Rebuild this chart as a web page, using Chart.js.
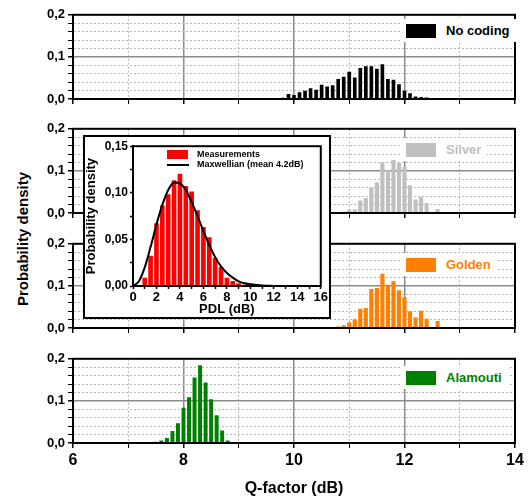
<!DOCTYPE html>
<html>
<head>
<meta charset="utf-8">
<title>Q-factor distributions</title>
<script src="https://cdn.jsdelivr.net/npm/chart.js@4.4.1/dist/chart.umd.min.js"></script>
<style>
  html, body { margin: 0; padding: 0; background: #fff; }
  #page { position: relative; width: 528px; height: 501px; overflow: hidden;
          font-family: "Liberation Sans", Arial, sans-serif; }
  #page canvas { position: absolute; left: 0; }
  .legend { position: absolute; background: #fff; display: flex; align-items: center;
            padding: 4px 6px 4px 4px; font-weight: bold; font-size: 13px; white-space: nowrap; }
  .legend .swatch { display: inline-block; width: 30px; height: 14px; margin-right: 10px; }
  #inset { position: absolute; left: 83px; top: 135px; width: 248px; height: 184px;
           box-sizing: border-box; border: 2px solid #000; background: #fff; }
  #inset canvas { position: absolute; left: 0; top: 0; }
  .ilegend { position: absolute; display: flex; align-items: center; font-weight: bold;
             font-size: 9px; line-height: 11px; white-space: nowrap; }
  .ilegend .swatch { display: inline-block; width: 21px; height: 9px; margin-right: 9px; }
  .ilegend .line { display: inline-block; width: 22px; height: 2px; margin-right: 8px; }
  #ylabel { position: absolute; left: 22px; top: 239px; transform: translate(-50%, -50%) rotate(-90deg);
            font-weight: bold; font-size: 15px; white-space: nowrap; }
</style>
</head>
<body>
<div id="page">
  <div id="ylabel">Probability density</div>
</div>
<script>
// ===== Data =====
const noCodingQ = [9.8, 9.9, 10.0, 10.1, 10.2, 10.3, 10.4, 10.5, 10.6, 10.7, 10.8, 10.9, 11.0, 11.1,
  11.2, 11.3, 11.4, 11.5, 11.6, 11.7, 11.8, 11.9, 12.0, 12.1, 12.2, 12.3, 12.4];
const noCodingP = [0.002, 0.011, 0.009, 0.015, 0.019, 0.025, 0.021, 0.033, 0.029, 0.032, 0.047, 0.052, 0.064, 0.050,
  0.073, 0.077, 0.077, 0.071, 0.082, 0.047, 0.045, 0.034, 0.019, 0.013, 0.005, 0.004, 0.003];

const silverQ = [10.9, 11.0, 11.1, 11.2, 11.3, 11.4, 11.5, 11.6, 11.7, 11.8, 11.9, 12.0, 12.1, 12.2, 12.3, 12.4, 12.6];
const silverP = [0.003, 0.007, 0.008, 0.029, 0.035, 0.060, 0.072, 0.120, 0.102, 0.125, 0.118, 0.109, 0.065, 0.031, 0.037, 0.023, 0.009];

const goldenQ = [10.6, 10.7, 10.8, 10.9, 11.0, 11.1, 11.2, 11.3, 11.4, 11.5, 11.6, 11.7, 11.8, 11.9, 12.0,
  12.1, 12.2, 12.3, 12.4, 12.6, 12.9];
const goldenP = [0.001, 0.001, 0.003, 0.006, 0.013, 0.020, 0.045, 0.047, 0.092, 0.094, 0.128, 0.102, 0.110, 0.089, 0.072,
  0.039, 0.024, 0.040, 0.021, 0.016, 0.001];

const alamoutiQ = [7.5, 7.6, 7.7, 7.8, 7.9, 8.0, 8.1, 8.2, 8.3, 8.4, 8.5, 8.6, 8.7, 8.8, 8.9];
const alamoutiP = [0.002, 0.005, 0.011, 0.028, 0.046, 0.083, 0.108, 0.155, 0.184, 0.143, 0.103, 0.065, 0.029, 0.005, 0.001];

const qTickLabels = [6, 8, 10, 12, 14];
const densityTickLabels = [0, 0.1, 0.2];

// inset: PDL histogram + Maxwellian fit
const pdlBins = [1.0, 1.5, 2.0, 2.5, 3.0, 3.5, 4.0, 4.5, 5.0, 5.5, 6.0, 6.5, 7.0, 7.5, 8.0, 8.5, 9.0, 9.5, 10.0];
const pdlMeasured = [0.0085, 0.032, 0.067, 0.086, 0.098, 0.113, 0.120, 0.107, 0.101, 0.081, 0.063, 0.052, 0.030,
  0.020, 0.0085, 0.005, 0.0025, 0.001, 0.0005];
const maxwellX = [0, 0.5, 1, 1.5, 2, 2.5, 3, 3.5, 4, 4.5, 5, 5.5, 6, 6.5, 7, 7.5, 8, 8.5, 9, 9.5, 10, 11, 12];
const maxwellY = [0, 0.005, 0.020, 0.042, 0.066, 0.087, 0.103, 0.111, 0.110, 0.103, 0.090, 0.075, 0.059, 0.044,
  0.031, 0.021, 0.014, 0.009, 0.005, 0.003, 0.002, 0.0005, 0.0001];
const pdlTickLabels = [0, 2, 4, 6, 8, 10, 12, 14, 16];
const pdlDensityTickLabels = [0, 0.05, 0.10, 0.15];

// ===== Layout =====
const series = [
  { label: 'No coding', q: noCodingQ, p: noCodingP, color: '#000000', bar: 3, top: 14, legendTop: 19 },
  { label: 'Silver', q: silverQ, p: silverP, color: '#c0c0c0', bar: 3.5, top: 128, legendTop: 138 },
  { label: 'Golden', q: goldenQ, p: goldenP, color: '#ff8000', bar: 3.5, top: 243, legendTop: 253 },
  { label: 'Alamouti', q: alamoutiQ, p: alamoutiP, color: '#008000', bar: 3.3, top: 358, legendTop: 366 }
];

Chart.defaults.font.family = '"Liberation Sans", Arial, sans-serif';
Chart.defaults.color = '#000';

const near = (list, v, eps) => list.some(t => Math.abs(t - v) < eps);

// draws the top and right edges so every plot is boxed
const framePlugin = {
  id: 'frame',
  afterDatasetsDraw(chart, args, opts) {
    const { ctx, chartArea: a } = chart;
    ctx.save();
    ctx.strokeStyle = '#000';
    ctx.lineWidth = opts.width || 2;
    ctx.strokeRect(a.left, a.top, a.right - a.left, a.bottom - a.top);
    ctx.restore();
  }
};

const page = document.getElementById('page');

function makePanel(s, isLast) {
  const padTop = 10, plotH = 85;
  const bottomH = isLast ? 58 : 12;
  const canvas = document.createElement('canvas');
  canvas.width = 528;
  canvas.height = padTop + plotH + bottomH;
  canvas.style.top = (s.top - padTop) + 'px';
  page.appendChild(canvas);

  const chart = new Chart(canvas, {
    type: 'bar',
    data: {
      datasets: [{
        label: s.label,
        data: s.q.map((x, i) => ({ x: x, y: s.p[i] })),
        backgroundColor: s.color,
        borderWidth: 0,
        barThickness: s.bar
      }]
    },
    options: {
      responsive: false,
      animation: false,
      layout: { padding: { top: padTop, right: 13, bottom: 0, left: 0 } },
      plugins: { legend: { display: false }, tooltip: { enabled: false }, frame: { width: 2 } },
      scales: {
        x: {
          type: 'linear', min: 6, max: 14, offset: false,
          afterFit: sc => { sc.height = bottomH; },
          ticks: {
            display: isLast, stepSize: 1, autoSkip: false, maxRotation: 0, padding: 3,
            font: { size: 16, weight: 'bold' },
            callback: v => qTickLabels.includes(v) ? String(v) : ''
          },
          grid: {
            offset: false,
            color: c => {
              if (!c.tick || c.tick.value <= 6 || c.tick.value >= 14) return 'rgba(0,0,0,0)';
              return c.tick.value % 2 === 0 ? '#8c8c8c' : '#b8b8b8';
            },
            lineWidth: c => (c.tick && c.tick.value % 2 === 0) ? 1.5 : 1,
            tickColor: '#000', tickLength: 5,
            tickWidth: c => (c.tick && c.tick.value % 2 === 0) ? 1.5 : 1
          },
          border: {
            color: '#000', width: 2,
            dash: c => (c.tick && c.tick.value % 2 !== 0) ? [2, 2] : []
          },
          title: {
            display: isLast, text: 'Q-factor (dB)',
            font: { size: 16, weight: 'bold' }, padding: { top: 0, bottom: 3 }
          }
        },
        y: {
          min: 0, max: 0.2,
          afterFit: sc => { sc.width = 73; },
          ticks: {
            stepSize: 0.02, autoSkip: false, padding: 3,
            font: { size: 13, weight: 'bold' },
            callback: v => near(densityTickLabels, v, 1e-6) ? v.toFixed(1).replace('.', ',') : ''
          },
          grid: {
            color: c => {
              if (!c.tick || c.tick.value < 1e-6 || c.tick.value > 0.2 - 1e-6) return 'rgba(0,0,0,0)';
              return near(densityTickLabels, c.tick.value, 1e-6) ? '#8c8c8c' : '#b8b8b8';
            },
            lineWidth: c => (c.tick && near(densityTickLabels, c.tick.value, 1e-6)) ? 1.5 : 1,
            tickColor: '#000', tickLength: 5,
            tickWidth: c => (c.tick && near(densityTickLabels, c.tick.value, 1e-6)) ? 1.5 : 1
          },
          border: {
            color: '#000', width: 2,
            dash: c => (c.tick && !near(densityTickLabels, c.tick.value, 1e-6)) ? [2, 2] : []
          }
        }
      }
    },
    plugins: [framePlugin]
  });

  // ===== HTML legend built from the dataset =====
  const ds = chart.data.datasets[0];
  const box = document.createElement('div');
  box.className = 'legend';
  box.style.left = '402px';
  box.style.top = s.legendTop + 'px';
  const sw = document.createElement('span');
  sw.className = 'swatch';
  sw.style.background = ds.backgroundColor;
  const tx = document.createElement('span');
  tx.textContent = ds.label;
  tx.style.color = ds.backgroundColor;
  box.appendChild(sw);
  box.appendChild(tx);
  page.appendChild(box);
  return chart;
}

series.forEach((s, i) => makePanel(s, i === series.length - 1));

// ===== Inset: PDL distribution =====
const inset = document.createElement('div');
inset.id = 'inset';
page.appendChild(inset);
const insetCanvas = document.createElement('canvas');
insetCanvas.width = 244;
insetCanvas.height = 180;
inset.appendChild(insetCanvas);

const insetChart = new Chart(insetCanvas, {
  type: 'bar',
  data: {
    datasets: [
      {
        type: 'line',
        label: 'Maxwellian (mean 4.2dB)',
        data: maxwellX.map((x, i) => ({ x: x, y: maxwellY[i] })),
        borderColor: '#000', borderWidth: 2, pointRadius: 0,
        cubicInterpolationMode: 'monotone', fill: false, order: 0
      },
      {
        label: 'Measurements',
        data: pdlBins.map((x, i) => ({ x: x, y: pdlMeasured[i] })),
        backgroundColor: '#ff0000', borderWidth: 0, barThickness: 4, order: 1
      }
    ]
  },
  options: {
    responsive: false,
    animation: false,
    layout: { padding: { top: 7, right: 8, bottom: 0, left: 0 } },
    plugins: { legend: { display: false }, tooltip: { enabled: false }, frame: { width: 2 } },
    scales: {
      x: {
        type: 'linear', min: 0, max: 16, offset: false,
        afterFit: sc => { sc.height = 31; },
        ticks: {
          stepSize: 1, autoSkip: false, maxRotation: 0, padding: 1,
          font: { size: 13, weight: 'bold' },
          callback: v => pdlTickLabels.includes(v) ? String(v) : ''
        },
        grid: { offset: false, drawOnChartArea: false, tickColor: '#000', tickLength: 3, tickWidth: 1.5 },
        border: { color: '#000', width: 2 },
        title: {
          display: true, text: 'PDL (dB)',
          font: { size: 13, weight: 'bold', lineHeight: 1.1 }, padding: { top: 0, bottom: 0 }
        }
      },
      y: {
        min: 0, max: 0.15,
        afterFit: sc => { sc.width = 48; },
        ticks: {
          stepSize: 0.025, autoSkip: false, padding: 2,
          font: { size: 12, weight: 'bold' },
          callback: v => near(pdlDensityTickLabels, v, 1e-6) ? v.toFixed(2).replace('.', ',') : ''
        },
        grid: { drawOnChartArea: false, tickColor: '#000', tickLength: 3, tickWidth: 1.5 },
        border: { color: '#000', width: 2 },
        title: {
          display: true, text: 'Probability density',
          font: { size: 13, weight: 'bold', lineHeight: 1 }, padding: { top: 0, bottom: 0 }
        }
      }
    }
  },
  plugins: [framePlugin]
});

// inset legend, built from its datasets (positions relative to the inset box)
const bars = insetChart.data.datasets[1];
const curve = insetChart.data.datasets[0];
[
  { ds: bars, top: 12, kind: 'swatch' },
  { ds: curve, top: 22, kind: 'line' }
].forEach(item => {
  const row = document.createElement('div');
  row.className = 'ilegend';
  row.style.left = '82px';
  row.style.top = item.top + 'px';
  const mark = document.createElement('span');
  mark.className = item.kind;
  mark.style.background = item.kind === 'swatch' ? item.ds.backgroundColor : item.ds.borderColor;
  const tx = document.createElement('span');
  tx.textContent = item.ds.label;
  row.appendChild(mark);
  row.appendChild(tx);
  inset.appendChild(row);
});
</script>
</body>
</html>
